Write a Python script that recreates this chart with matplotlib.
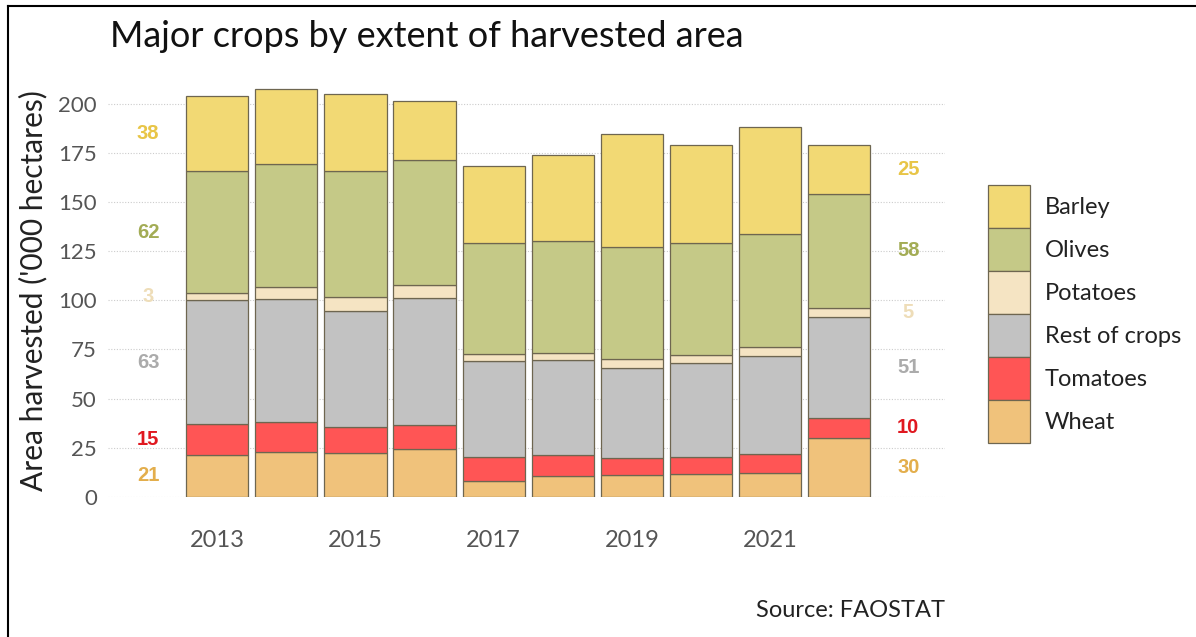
import matplotlib.pyplot as plt
import numpy as np
from matplotlib.lines import Line2D
from matplotlib.patches import Patch

plt.rcParams['font.family'] = ['Lato', 'DejaVu Sans']

# Harvested area, '000 hectares
years = [2013, 2014, 2015, 2016, 2017, 2018, 2019, 2020, 2021, 2022]
wheat = [21.4, 22.9, 22.1, 24.1, 8.1, 10.7, 10.9, 11.4, 12.2, 29.9]
tomatoes = [15.4, 15.0, 13.2, 12.4, 12.3, 10.5, 8.6, 9.0, 9.5, 10.4]
rest_of_crops = [63.3, 62.8, 59.4, 64.5, 48.9, 48.4, 46.2, 47.9, 49.9, 51.3]
potatoes = [3.4, 6.3, 7.2, 6.8, 3.5, 3.7, 4.4, 3.7, 4.8, 4.7]
olives = [62.4, 62.6, 64.0, 63.7, 56.4, 56.9, 57.1, 57.2, 57.4, 58.0]
barley = [38.3, 38.0, 39.2, 30.2, 39.2, 44.0, 57.7, 49.7, 54.3, 24.8]

crops = ['Wheat', 'Tomatoes', 'Rest of crops', 'Potatoes', 'Olives', 'Barley']
series = [wheat, tomatoes, rest_of_crops, potatoes, olives, barley]
fills = ['#F0C27B', '#FF5555', '#C2C2C2', '#F5E4C3', '#C5C987', '#F2D974']
label_colors = ['#E3AE4C', '#E01820', '#ABABAB', '#EEDDB8', '#A3AC55', '#E8C547']
edge = '#6E6650'

fig = plt.figure(figsize=(11.96, 6.37), dpi=100)
ax = fig.add_axes([0.0903, 0.2203, 0.6998, 0.6472])

x = np.array(years)
bottom = np.zeros(len(years))
for name, vals, col in zip(crops, series, fills):
    ax.bar(x, vals, bottom=bottom, width=0.9, color=col, edgecolor=edge,
           linewidth=0.9, zorder=3)
    bottom += np.array(vals)

# segment values at the first and last year
cum0 = 0.0
cum1 = 0.0
for vals, lc in zip(series, label_colors):
    ax.text(years[0] - 1.0, cum0 + vals[0] / 2, f'{vals[0]:.0f}', ha='center',
            va='center', fontsize=14.5, fontweight='bold', color=lc, zorder=4,
            family='Liberation Sans')
    ax.text(years[-1] + 1.0, cum1 + vals[-1] / 2, f'{vals[-1]:.0f}', ha='center',
            va='center', fontsize=14.5, fontweight='bold', color=lc, zorder=4,
            family='Liberation Sans')
    cum0 += vals[0]
    cum1 += vals[-1]

ax.set_xlim(2011.42, 2023.53)
ax.set_ylim(0, 210)
ax.set_yticks(range(0, 201, 25))
ax.set_xticks([2013, 2015, 2017, 2019, 2021])
ax.grid(axis='y', linestyle=(0, (1, 1.5)), color='#CCCCCC', linewidth=0.8, zorder=0)
ax.tick_params(axis='both', length=0, labelcolor='#555555')
ax.tick_params(axis='x', pad=24, labelsize=17)
ax.tick_params(axis='y', pad=8, labelsize=16)
for s in ax.spines.values():
    s.set_visible(False)

ax.set_ylabel("Area harvested ('000 hectares)", fontsize=21.5, color='#222222',
              labelpad=8)

fig.text(0.092, 0.943, 'Major crops by extent of harvested area', fontsize=26,
         color='#111111', ha='left', va='center')
fig.text(0.790, 0.042, 'Source: FAOSTAT', fontsize=17, color='#222222',
         ha='right', va='center')

handles = [Patch(facecolor=c, edgecolor=edge, linewidth=0.9) for c in fills[::-1]]
leg = fig.legend(handles, crops[::-1], loc='center left', bbox_to_anchor=(0.826, 0.507),
                 frameon=False, fontsize=17, handlelength=1.78, handleheight=2.43,
                 handletextpad=0.64, labelspacing=0.0, borderpad=0,
                 borderaxespad=0)
for t in leg.get_texts():
    t.set_color('#222222')

# frame lines along the top and left edge
fig.add_artist(Line2D([0.0067, 0.0067], [0, 0.991], transform=fig.transFigure,
                      color='black', linewidth=1.5))
fig.add_artist(Line2D([0.0067, 1], [0.991, 0.991], transform=fig.transFigure,
                      color='black', linewidth=1.5))

fig.savefig('out.png', dpi=100)
